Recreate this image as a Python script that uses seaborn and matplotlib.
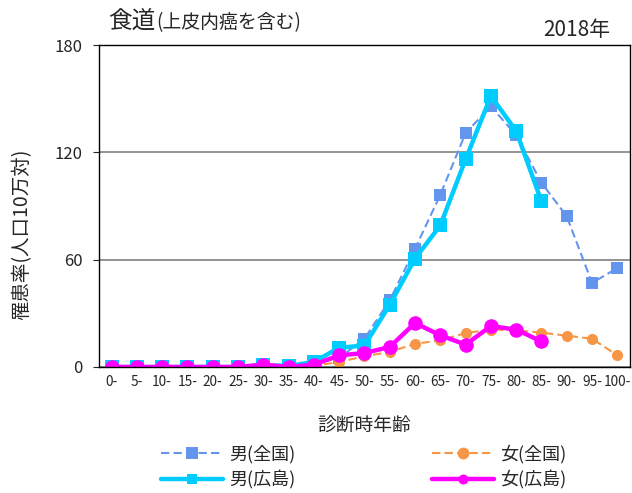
import numpy as np
import pandas as pd
import matplotlib
matplotlib.use("Agg")
import matplotlib.pyplot as plt
import seaborn as sns

ages = ["0-", "5-", "10-", "15-", "20-", "25-", "30-", "35-", "40-", "45-", "50-",
        "55-", "60-", "65-", "70-", "75-", "80-", "85-", "90-", "95-", "100-"]

male_national = [0, 0, 0, 0, 0, 0.2, 1.0, 0.8, 1.8, 5.0, 15.8,
                 37.3, 66.1, 96.3, 130.8, 145.7, 129.5, 103.0, 84.2, 47.0, 55.3]
female_national = [0, 0, 0, 0, 0, 0.1, 0.5, 0.4, 0.6, 2.8, 6.0,
                   8.4, 13.0, 14.9, 19.0, 20.9, 20.5, 19.2, 17.5, 15.8, 6.5]
male_hiroshima = [0, 0, 0, 0, 0, 0, 1.0, 0.6, 2.8, 10.8, 12.0,
                  34.8, 60.6, 79.2, 116.1, 151.5, 131.9, 92.6, np.nan, np.nan, np.nan]
female_hiroshima = [0, 0, 0, 0, 0, 0, 1.3, 0, 1.3, 6.5, 7.8,
                    11.2, 24.6, 17.7, 12.5, 22.9, 20.9, 14.3, np.nan, np.nan, np.nan]

sns.set_style("white")
plt.rcParams['font.family'] = ['Noto Sans CJK JP', 'DejaVu Sans']

df = pd.DataFrame({
    "age": ages,
    "男(全国)": male_national,
    "女(全国)": female_national,
    "男(広島)": male_hiroshima,
    "女(広島)": female_hiroshima,
})

fig = plt.figure(figsize=(6.32, 4.93), dpi=100)
ax = fig.add_axes([0.1566, 0.2556, 0.8402, 0.6531])

# name, colour, marker, marker size, legend marker size, line width, dash
styles = [
    ("男(全国)", "#6495ED", "s", 8, 8.5, 1.5, (0, (4, 2))),
    ("女(全国)", "#F79646", "o", 8, 8.5, 1.5, (0, (4, 2))),
    ("男(広島)", "#00CCFF", "s", 9.5, 7.2, 3.2, "-"),
    ("女(広島)", "#FF00FF", "o", 10.5, 7.2, 3.2, "-"),
]
for name, color, marker, ms, lms, lw, ls in styles:
    d = df[["age", name]].dropna()
    sns.lineplot(x=d["age"], y=d[name], ax=ax, color=color, marker=marker,
                 markersize=ms, markeredgewidth=0, linewidth=lw, linestyle=ls,
                 label=name)

ax.set_xlim(-0.5, len(ages) - 0.5)
ax.set_ylim(0, 180)
ax.set_yticks([0, 60, 120, 180])
ax.yaxis.grid(True, color="#808080", linewidth=1.2)
ax.xaxis.grid(False)
for s in ax.spines.values():
    s.set_color("black")
    s.set_linewidth(1.0)
ax.tick_params(axis="y", labelsize=12, length=4, direction="out", left=True, pad=8)
ax.tick_params(axis="x", labelsize=9.8, length=0, pad=6)

ax.set_xlabel("診断時年齢", fontsize=13.5, va="center")
ax.xaxis.set_label_coords(0.5, -0.180)
ax.set_ylabel("罹患率(人口10万対)", fontsize=14, va="center")
ax.yaxis.set_label_coords(-0.145, 0.413)

fig.text(108 / 632, 1 - 21 / 493, "食道", fontsize=17, ha="left", va="center")
fig.text(156 / 632, 1 - 22.5 / 493, "(上皮内癌を含む)", fontsize=13.6, ha="left", va="center")
fig.text(610 / 632, 1 - 30 / 493, "2018年", fontsize=15, ha="right", va="center")

handles, labels = ax.get_legend_handles_labels()
ax.legend_.remove()
order = [0, 2, 1, 3]
leg = fig.legend([handles[i] for i in order], [labels[i] for i in order],
                 loc="center left", bbox_to_anchor=(161 / 632, 1 - 467 / 493),
                 ncol=2, frameon=False, fontsize=13, handlelength=3.43,
                 columnspacing=7.6, handletextpad=0.33, labelspacing=0.4,
                 borderpad=0, borderaxespad=0)
for h, i in zip(leg.legend_handles, order):
    h.set_markersize(styles[i][4])

fig.savefig("out.png", dpi=100)
